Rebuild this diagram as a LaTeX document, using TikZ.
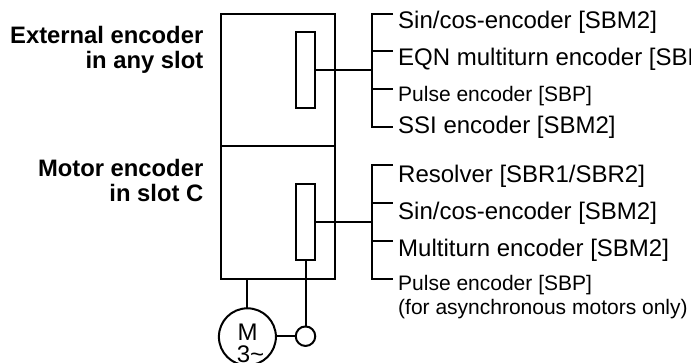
\documentclass[tikz,border=0pt]{standalone}
\usepackage{fontspec}
\setmainfont{Liberation Sans}
\usepackage{tikz}
\tikzset{
  driveline/.style={draw, line width=2pt},
  housingbox/.style={draw, line width=2pt, minimum width=114pt, minimum height=132.5pt, inner sep=0pt, outer sep=0pt},
  slotbox/.style={draw, line width=2pt, fill=white, minimum width=19.5pt, inner sep=0pt, outer sep=0pt},
  encoderlabel/.style={anchor=base west, inner sep=0pt, font=\fontsize{24}{24}\selectfont},
  encodersmall/.style={anchor=base west, inner sep=0pt, font=\fontsize{21}{24}\selectfont, align=left},
  slotlabel/.style={anchor=base east, inner sep=0pt, font=\fontsize{23.8}{24}\selectfont\bfseries},
  motortext/.style={anchor=base, inner sep=0pt, font=\fontsize{24}{24}\selectfont},
}
\begin{document}
\begin{tikzpicture}[x=1pt, y=-1pt]
  \useasboundingbox (0, 0) rectangle (691, 362);
  \clip (0, 0) rectangle (691, 362);

  % drive housing
  \node[housingbox] (upperslot) at (277.5, 79.75) {};
  \node[housingbox] (lowerslot) at (277.5, 212.25) {};

  % encoder modules
  \node[slotbox, minimum height=76pt] (upperenc) at (305.5, 69.75) {};
  \node[slotbox, minimum height=76pt] (lowerenc) at (305.5, 222) {};

  % upper bus
  \coordinate (upperbus) at (372.3, 69.75);
  \coordinate (ub1) at (393, 14);
  \coordinate (ub2) at (393, 50.7);
  \coordinate (ub3) at (393, 89);
  \coordinate (ub4) at (393, 127.3);
  \draw[driveline] (upperenc) -- (upperbus);
  \draw[driveline] (ub1) -- (ub1 -| upperbus) -- (ub4 -| upperbus) -- (ub4);
  \draw[driveline] (ub2 -| upperbus) -- (ub2);
  \draw[driveline] (ub3 -| upperbus) -- (ub3);

  % lower bus
  \coordinate (lowerbus) at (372.3, 222);
  \coordinate (lb1) at (393, 165);
  \coordinate (lb2) at (393, 203.3);
  \coordinate (lb3) at (393, 240.7);
  \coordinate (lb4) at (393, 278.5);
  \draw[driveline] (lowerenc) -- (lowerbus);
  \draw[driveline] (lb1) -- (lb1 -| lowerbus) -- (lb4 -| lowerbus) -- (lb4);
  \draw[driveline] (lb2 -| lowerbus) -- (lb2);
  \draw[driveline] (lb3 -| lowerbus) -- (lb3);

  % motor and tacho
  \coordinate (housingfoot) at (247.4, 278.5);
  \node[circle, draw, line width=2pt, minimum size=57pt, inner sep=0pt, outer sep=0pt] (motor) at (247.4, 336.8) {};
  \node[circle, draw, line width=2pt, minimum size=19.5pt, inner sep=0pt, outer sep=0pt] (tacho) at (305.5, 336.2) {};
  \draw[driveline] (housingfoot) -- (motor);
  \draw[driveline] (lowerenc) -- (tacho);
  \draw[driveline] (motor.east |- tacho) -- (tacho);
  \node[motortext] (motorm) at (247.6, 340.7) {M};
  \node[motortext] (motorn) at (250.5, 362) {3\char`~};

  % labels
  \node[slotlabel] (extlabela) at (203.5, 43.3) {External encoder};
  \node[slotlabel] (extlabelb) at (203.5, 68.2) {in any slot};
  \node[slotlabel] (motlabela) at (203.5, 176.7) {Motor encoder};
  \node[slotlabel] (motlabelb) at (203.5, 201.5) {in slot C};

  \node[encoderlabel] (uenc1) at (398, 28) {Sin/cos-encoder [SBM2]};
  \node[encoderlabel] (uenc2) at (398, 65) {EQN multiturn encoder [SBM2]};
  \node[encodersmall] (uenc3) at (398, 101) {Pulse encoder [SBP]};
  \node[encoderlabel] (uenc4) at (398, 133.5) {SSI encoder [SBM2]};
  \node[encoderlabel] (lenc1) at (398, 182) {Resolver [SBR1/SBR2]};
  \node[encoderlabel] (lenc2) at (398, 219) {Sin/cos-encoder [SBM2]};
  \node[encoderlabel] (lenc3) at (398, 256) {Multiturn encoder [SBM2]};
  \node[encodersmall] (lenc4) at (398, 290.5) {Pulse encoder [SBP]};
  \node[encodersmall] (lenc5) at (398, 314) {(for asynchronous motors only)};
\end{tikzpicture}
\end{document}
